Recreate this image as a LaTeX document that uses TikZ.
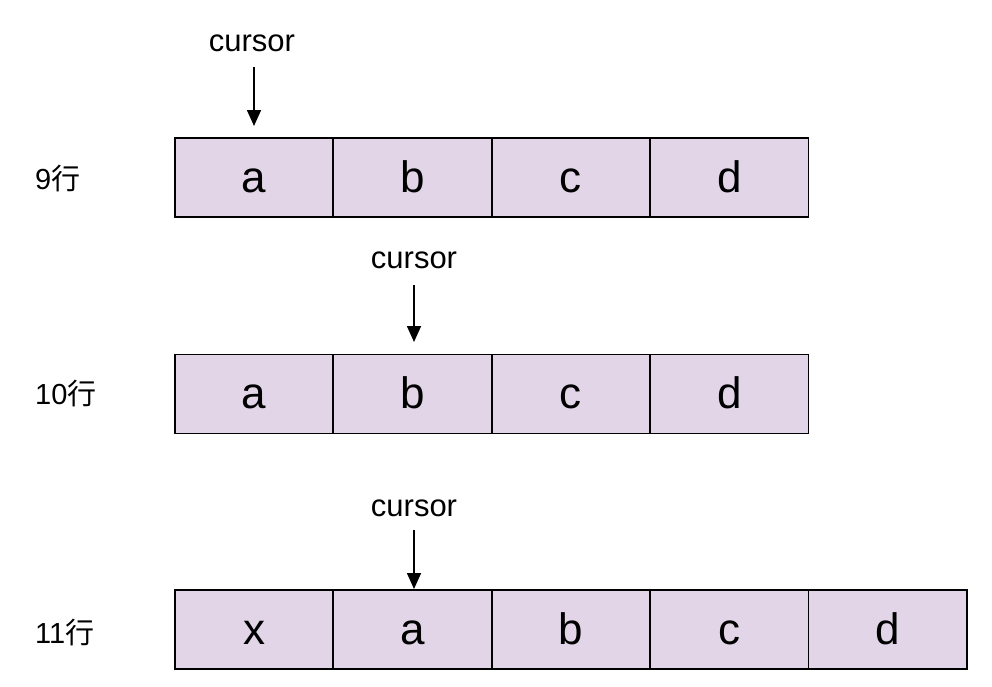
\documentclass[tikz,border=0pt]{standalone}
\usepackage{fontspec}
\setmainfont{Liberation Sans}
\newfontfamily\cjk{Noto Sans CJK SC}
\usetikzlibrary{arrows.meta}
\definecolor{cellfill}{HTML}{E1D5E7}
\tikzset{
  cell/.style={draw=black, line width=1.8pt, fill=cellfill, minimum width=158.4pt, minimum height=79pt, inner sep=0pt, text height=30pt, text depth=0pt, font=\fontsize{44}{44}\selectfont, anchor=north west},
  cursortext/.style={font=\fontsize{31}{31}\selectfont, inner sep=0pt},
  rowlabel/.style={font=\fontsize{29}{29}\selectfont, inner sep=0pt, anchor=west},
  pointer/.style={line width=1.6pt, -{Triangle[length=16pt, width=14pt]}, shorten >=0pt}
}
\begin{document}
\begin{tikzpicture}[x=1pt, y=-1pt]
\useasboundingbox (0,0) rectangle (992,686);
% row 1
\foreach \t [count=\i from 0] in {a,b,c,d}
  \node[cell] (r1c\i) at ({174+158.4*\i},137) {\t};
\node[rowlabel] (l1) at (35,179) {9{\cjk 行}};
\node[cursortext] (cur1) at (252,43) {cursor};
\coordinate (p1s) at (254,67);
\coordinate (p1e) at (254,126);
\draw[pointer] (p1s) -- (p1e);
% row 2
\foreach \t [count=\i from 0] in {a,b,c,d}
  \node[cell] (r2c\i) at ({174+158.4*\i},353.5) {\t};
\node[rowlabel] (l2) at (35,393) {10{\cjk 行}};
\node[cursortext] (cur2) at (414,260) {cursor};
\coordinate (p2s) at (414,285);
\coordinate (p2e) at (414,342);
\draw[pointer] (p2s) -- (p2e);
% row 3
\foreach \t [count=\i from 0] in {x,a,b,c,d}
  \node[cell] (r3c\i) at ({174+158.4*\i},589) {\t};
\node[rowlabel] (l3) at (35,632) {11{\cjk 行}};
\node[cursortext] (cur3) at (414,508) {cursor};
\coordinate (p3s) at (414,530);
\draw[pointer] (p3s) -- (p3s |- r3c1.north);
\end{tikzpicture}
\end{document}
